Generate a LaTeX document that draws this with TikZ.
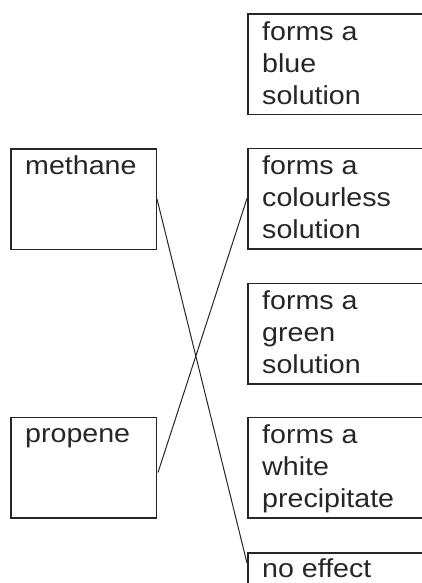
\documentclass[tikz,border=0pt]{standalone}
\usepackage{fontspec}
\setmainfont{Liberation Sans}[FakeStretch=1.1]
\tikzset{
	box/.style={draw=black!85, line width=1.5pt, minimum width=145.5pt, minimum height=100.5pt, anchor=north west, inner sep=0pt},
	choice/.style={box, minimum width=220pt},
	txt/.style={anchor=north west, align=left, inner sep=0pt, text=black!85, font=\fontsize{26}{32}\selectfont},
	link/.style={draw=black!85, line width=1pt}
}
\begin{document}
\begin{tikzpicture}[x=1pt, y=-1pt]
			\clip (0, 0) rectangle (422, 583);

			\node[box] (methane) at (10, 148) {};
			\node[box] (propene) at (10, 416.5) {};
			\node[choice] (blue) at (247, 13.5) {};
			\node[choice] (colourless) at (247, 147.5) {};
			\node[choice] (green) at (247, 282.5) {};
			\node[choice] (white) at (247, 416.5) {};
			\node[choice] (noeffect) at (247, 552) {};

			\node[txt] (methanetext) at ([xshift=15pt, yshift=-7.5pt]methane.north west) {methane};
			\node[txt, text height=18.6pt] (propenetext) at ([xshift=15pt, yshift=-7.5pt]propene.north west) {propene};
			\node[txt] (bluetext) at ([xshift=15pt, yshift=-7.5pt]blue.north west) {forms a\\blue\\solution};
			\node[txt] (colourlesstext) at ([xshift=15pt, yshift=-7.5pt]colourless.north west) {forms a\\colourless\\solution};
			\node[txt] (greentext) at ([xshift=15pt, yshift=-7.5pt]green.north west) {forms a\\green\\solution};
			\node[txt] (whitetext) at ([xshift=15pt, yshift=-7.5pt]white.north west) {forms a\\white\\precipitate};
			\node[txt] (noeffecttext) at ([xshift=15pt, yshift=-6.5pt]noeffect.north west) {no effect};

			\coordinate (hit) at ([yshift=-11pt]noeffect.north west);
			\coordinate (start) at ([xshift=1pt, yshift=-5pt]propene.east);
			\draw[link] (methane.east) -- (hit);
			\draw[link] (start) -- (colourless.west);
		\end{tikzpicture}
\end{document}
